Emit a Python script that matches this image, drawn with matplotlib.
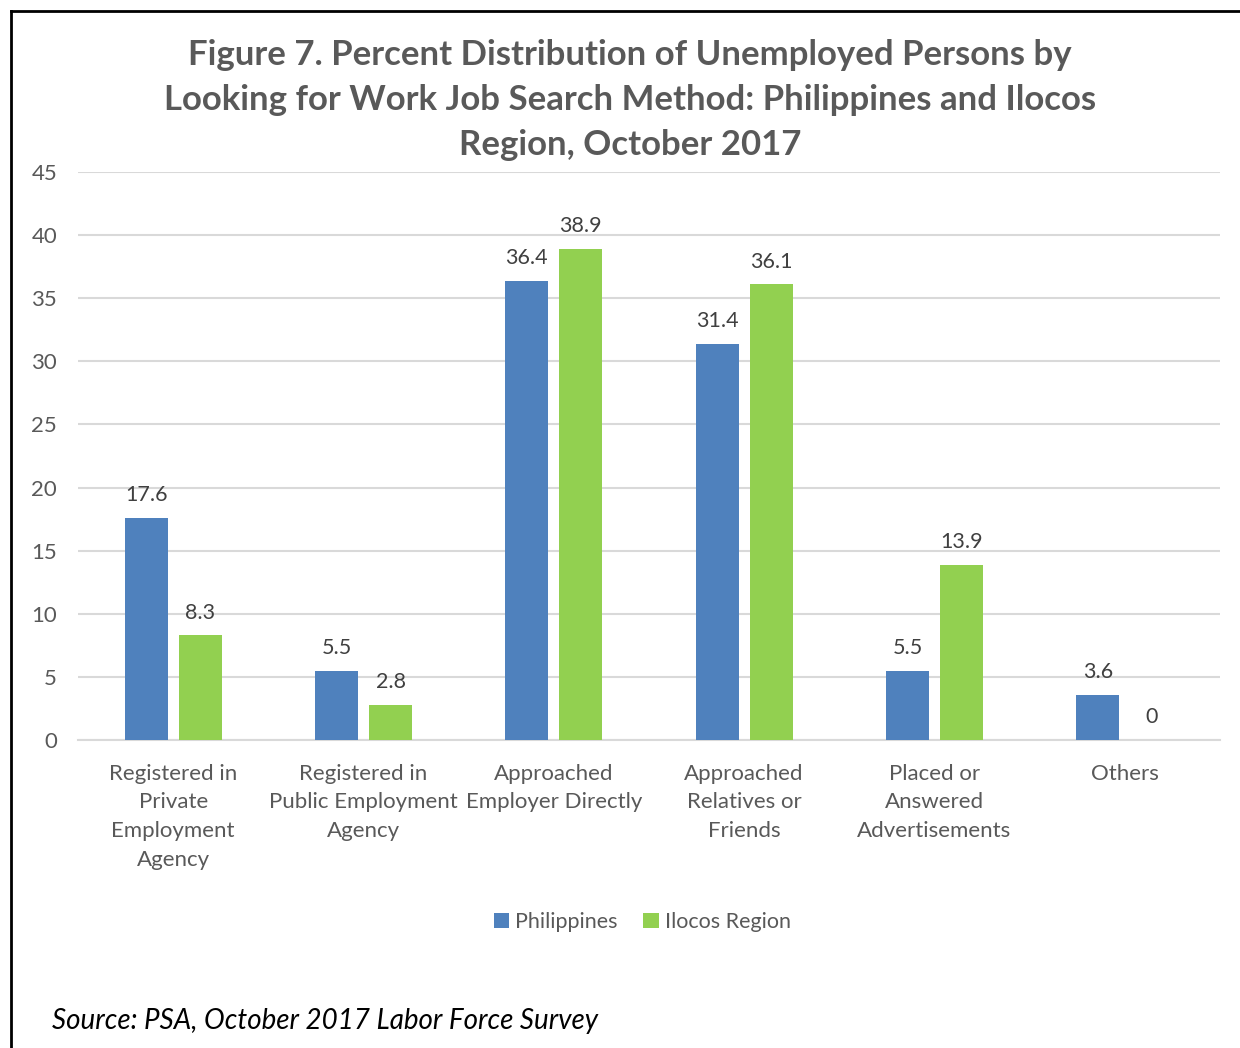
import matplotlib
matplotlib.use('Agg')
import matplotlib.pyplot as plt
import numpy as np

categories = ['Registered in\nPrivate\nEmployment\nAgency',
              'Registered in\nPublic Employment\nAgency',
              'Approached\nEmployer Directly',
              'Approached\nRelatives or\nFriends',
              'Placed or\nAnswered\nAdvertisements',
              'Others']
philippines = [17.6, 5.5, 36.4, 31.4, 5.5, 3.6]
ilocos = [8.3, 2.8, 38.9, 36.1, 13.9, 0]
series_names = ['Philippines', 'Ilocos Region']
colors = ['#4f81bd', '#92d050']

plt.rcParams['font.family'] = ['Lato', 'DejaVu Sans']

fig = plt.figure(figsize=(12.4, 10.48), dpi=100)
ax = fig.add_axes([0.0629, 0.2939, 0.921, 0.542])

x = np.arange(len(categories))
w = 0.226
off = 0.142
b1 = ax.bar(x - off, philippines, w, color=colors[0], label=series_names[0], zorder=3)
b2 = ax.bar(x + off, ilocos, w, color=colors[1], label=series_names[1], zorder=3)

for bars, vals in [(b1, philippines), (b2, ilocos)]:
    for b, v in zip(bars, vals):
        lbl = '%g' % v
        ax.annotate(lbl, (b.get_x() + b.get_width() / 2, v), xytext=(0, 9),
                    textcoords='offset points', ha='center', va='bottom',
                    fontsize=15.5, color='#404040')

ax.set_xlim(-0.5, len(categories) - 0.5)
ax.set_ylim(0, 45)
ax.set_yticks(range(0, 46, 5))
ax.yaxis.grid(True, color='#d9d9d9', linewidth=1.5, zorder=0)
ax.set_axisbelow(True)
for s in ['top', 'right', 'left']:
    ax.spines[s].set_visible(False)
ax.spines['bottom'].set_color('#d9d9d9')
ax.spines['bottom'].set_linewidth(1.5)
ax.tick_params(axis='both', length=0, labelsize=16, colors='#595959')
ax.tick_params(axis='y', pad=15)
ax.tick_params(axis='x', pad=17)
ax.set_xticks(x)
ax.set_xticklabels(categories, linespacing=1.55)

fig.text(0.508, 0.9046, 'Figure 7. Percent Distribution of Unemployed Persons by\n'
         'Looking for Work Job Search Method: Philippines and Ilocos\n'
         'Region, October 2017', ha='center', va='center', fontsize=25,
         fontweight='bold', color='#595959', linespacing=1.5)

fig.legend(handles=[b1, b2], loc='center', bbox_to_anchor=(0.518, 0.12),
           ncol=2, frameon=False, fontsize=15.5, handlelength=0.7, handleheight=0.7,
           handletextpad=0.3, columnspacing=1.2, labelcolor='#595959')

fig.text(0.042, 0.026, 'Source: PSA, October 2017 Labor Force Survey',
         fontsize=20, style='italic', color='black', ha='left', va='center')

# frame lines top and left
fig.add_artist(plt.Line2D([0.0085, 1.0], [0.9895, 0.9895], color='black', linewidth=2))
fig.add_artist(plt.Line2D([0.0085, 0.0085], [0.0, 0.9895], color='black', linewidth=2))

plt.savefig('out.png', dpi=100)
